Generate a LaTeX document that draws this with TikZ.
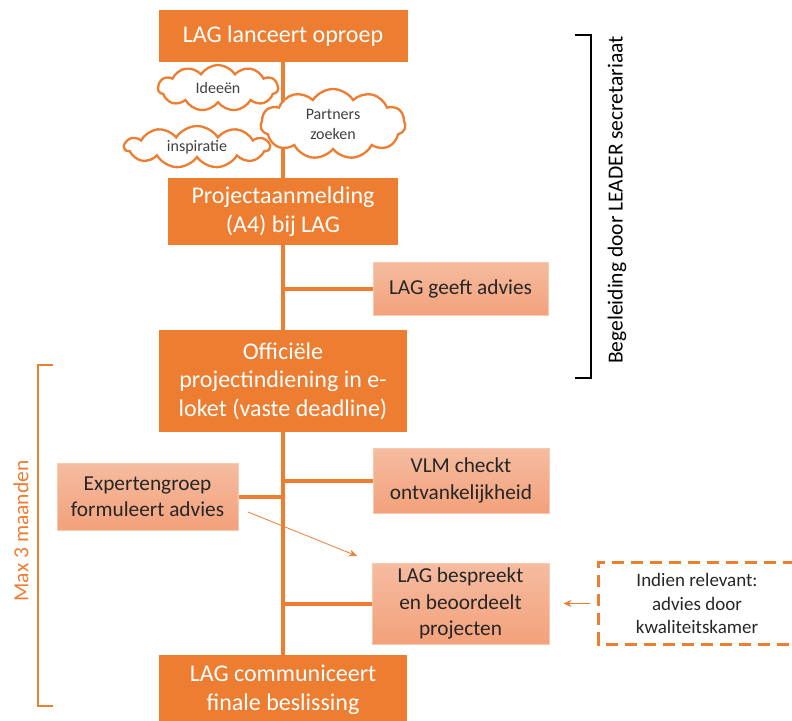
\documentclass[tikz,border=0pt]{standalone}
\usepackage{fontspec}
\setmainfont{Carlito}
\usetikzlibrary{shapes.symbols,arrows.meta,backgrounds}
\definecolor{dorange}{HTML}{ED7D31}
\definecolor{ltop}{HTML}{F5BCA0}
\definecolor{lbot}{HTML}{F3A17B}
\definecolor{lborder}{HTML}{F8C9AE}
\definecolor{dtext}{HTML}{262626}
\definecolor{ctext}{HTML}{404040}
\begin{document}
\begin{tikzpicture}[x=1pt,y=-1pt,
  dbox/.style={fill=dorange, draw=none, text=white, align=center, inner sep=0pt, font=\fontsize{24}{28.5}\selectfont},
  lbox/.style={top color=ltop, bottom color=lbot, draw=lborder, line width=1pt, text=dtext, align=center, inner sep=0pt, font=\fontsize{21.3}{26.5}\selectfont},
  trunk/.style={draw=dorange, line width=4pt},
  cloudbox/.style={cloud, cloud puffs=11, cloud puff arc=115, draw=dorange, line width=2.3pt, fill=white, text=ctext, align=center, inner sep=0pt, font=\fontsize{16}{20}\selectfont},
  thinarrow/.style={draw=dorange, line width=0.8pt, -{Stealth[length=8pt,width=7pt]}},
  dashbox/.style={draw=dorange, line width=2.8pt, dash pattern=on 12pt off 7pt},
  brk/.style={line width=2pt}
]
\useasboundingbox (0,0) rectangle (792,720);
% main boxes
\node[dbox, minimum width=249, minimum height=52] (b1) at (283,36) {LAG lanceert oproep};
\node[dbox, minimum width=230, minimum height=67] (b2) at (283,211.5) {Projectaanmelding\\(A4) bij LAG};
\node[dbox, minimum width=248, minimum height=102] (b4) at (283,381) {Officiële\\projectindiening in e-\\loket (vaste deadline)};
\node[dbox, minimum width=248, minimum height=70] (b8) at (283,690) {LAG communiceert\\finale beslissing};
% light boxes
\node[lbox, minimum width=175, minimum height=53] (b3) at (460.5,288.5) {LAG geeft advies};
\node[lbox, minimum width=176, minimum height=65] (b5) at (461,480.5) {VLM checkt\\ontvankelijkheid};
\node[lbox, minimum width=181, minimum height=67] (b6) at (147.5,496.5) {Expertengroep\\formuleert advies};
\node[lbox, minimum width=177, minimum height=81] (b7) at (460.5,603.5) {LAG bespreekt\\en beoordeelt\\projecten};
% trunk and branches
\begin{scope}[on background layer]
\draw[trunk] (b1.south) -- (b8.north);
\draw[trunk] (b3.west) -- (b3.west -| b1.south);
\draw[trunk] (b5.west) -- (b5.west -| b1.south);
\draw[trunk] (b7.west) -- (b7.west -| b1.south);
\draw[trunk] (b6.east) -- (b6.east -| b1.south);
\end{scope}
% clouds
\node[cloudbox, aspect=2.6, minimum width=120, minimum height=46] (c1) at (218,88) {Ideeën};
\node[cloudbox, aspect=3.4, minimum width=145, minimum height=42] (c3) at (197,147) {inspiratie};
\node[cloudbox, aspect=2.1, minimum width=145, minimum height=70] (c2) at (333,124) {Partners\\zoeken};
% thin arrow
\coordinate (a1) at (248,512);
\coordinate (a2) at (357,556);
\draw[thinarrow] (a1) -- (a2);
% dashed box
\node[text=dtext, align=center, inner sep=0pt, minimum width=196, minimum height=81, font=\fontsize{19}{23.5}\selectfont] (dq) at (697,603.5) {Indien relevant:\\advies door\\kwaliteitskamer};
\draw[dashbox] (dq.north east) -- (dq.north west) -- (dq.south west) -- (dq.south east);
\draw[thinarrow] ([xshift=-9pt]dq.west) -- ([xshift=14pt]b7.east);
% right bracket
\coordinate (r1) at (575,35);
\coordinate (r2) at (575,378);
\draw[brk] (r1) -- ++(16,0) |- (r2);
\node[rotate=90, font=\fontsize{21.5}{24}\selectfont, text=black] (rt) at (617,200) {Begeleiding door LEADER secretariaat};
% left bracket
\coordinate (l1) at (53,365);
\coordinate (l2) at (53,706);
\draw[brk, dorange, line width=2.5pt] (l1) -- ++(-15,0) |- (l2);
\node[rotate=90, font=\fontsize{21.5}{24}\selectfont, text=dorange] (lt) at (21,531) {Max 3 maanden};
\end{tikzpicture}
\end{document}
